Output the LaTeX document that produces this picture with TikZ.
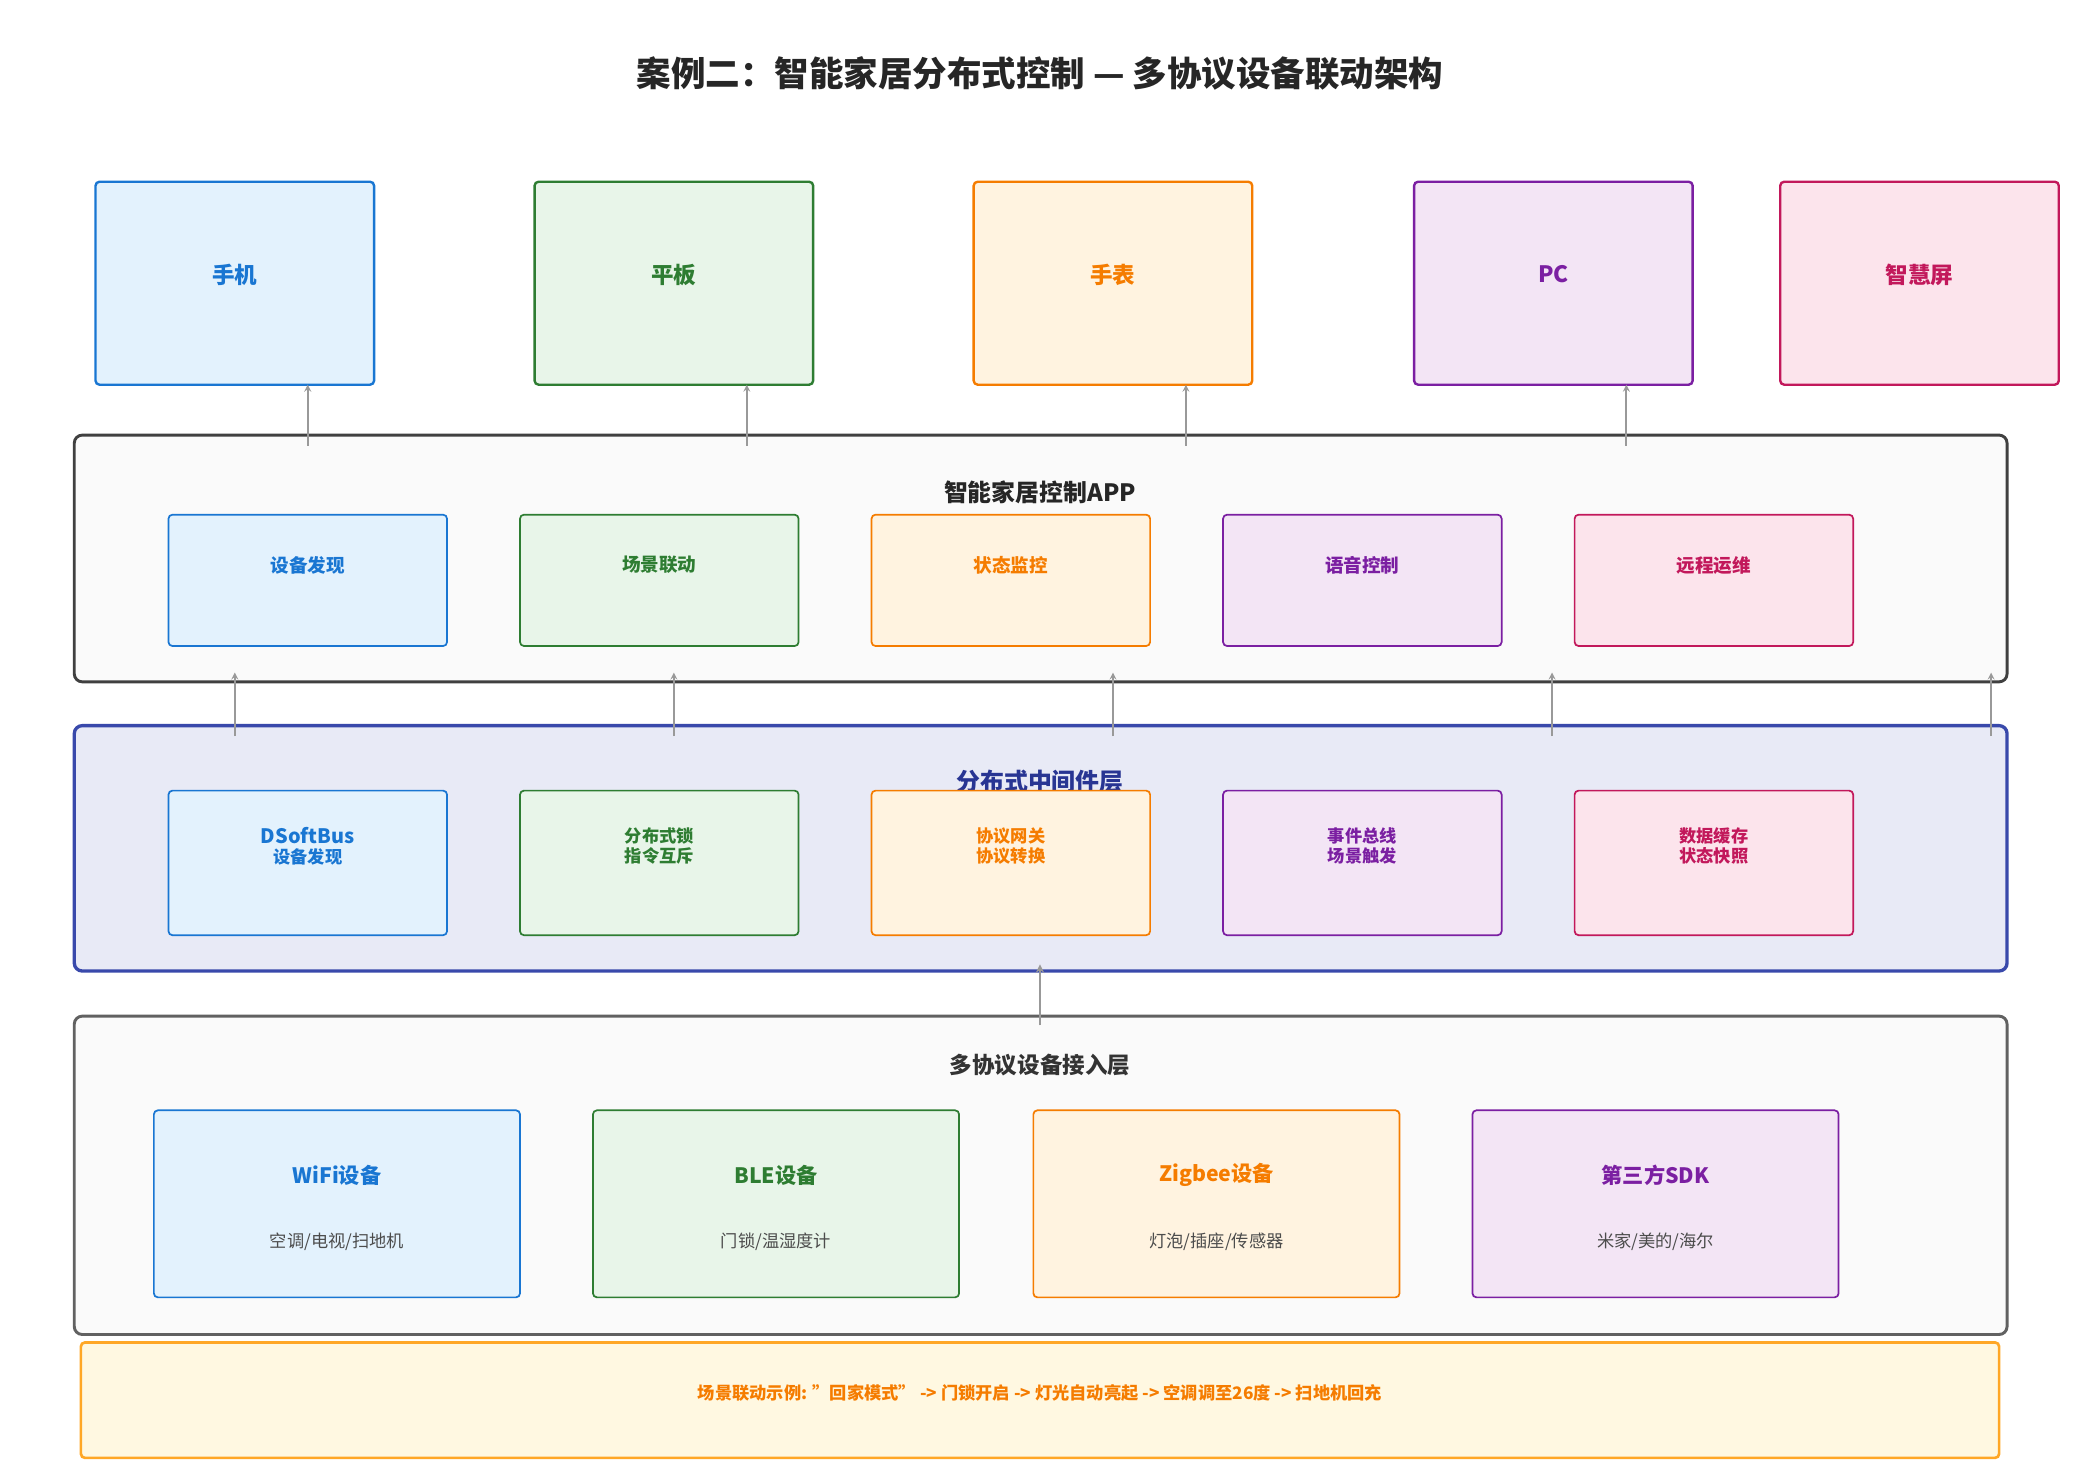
\documentclass[tikz,border=0pt]{standalone}
\usepackage{fontspec}
\setmainfont{Noto Sans CJK SC}
\begin{document}
\begin{tikzpicture}[x=1pt,y=-1pt,
 ar/.style={draw=gray!80,line width=1.3pt,->,>=stealth},
 lab/.style={font=\bfseries\fontsize{14}{16}\selectfont,text=#1,align=center}]
\definecolor{cb}{HTML}{1976D2}\definecolor{cg}{HTML}{2E7D32}\definecolor{co}{HTML}{F57C00}
\definecolor{cp}{HTML}{7B1FA2}\definecolor{ck}{HTML}{C2185B}
\definecolor{fb}{HTML}{E3F2FD}\definecolor{fg}{HTML}{E8F5E9}\definecolor{fo}{HTML}{FFF3E0}
\definecolor{fp}{HTML}{F3E5F5}\definecolor{fk}{HTML}{FCE4EC}
\definecolor{mwb}{HTML}{3949AB}\definecolor{mwf}{HTML}{E8EAF6}\definecolor{mwt}{HTML}{283593}
\definecolor{nf}{HTML}{FFF8E1}\definecolor{nb}{HTML}{FFA726}
\tikzset{cbox/.style 2 args={draw=#1,fill=#2,line width=1.3pt,rounded corners=3pt}}
\useasboundingbox (0,0) rectangle (1568,1115.6);
\node[font=\bfseries\fontsize{26}{30}\selectfont,text=black!85] (title) at (784,55) {案例二：智能家居分布式控制 — 多协议设备联动架构};
% top devices
\foreach \x/\c/\f/\t/\n in {72/cb/fb/手机/d1,403/cg/fg/平板/d2,734/co/fo/手表/d3,1066/cp/fp/PC/d4,1342/ck/fk/智慧屏/d5}{
 \draw[cbox={\c}{\f},line width=1.8pt] (\x,137) rectangle ++(210,153);
 \node[lab=\c,font=\bfseries\fontsize{17}{19}\selectfont] (\n) at (\x+105,207) {\t};}
% APP layer
\draw[draw=black!75,fill=black!2,line width=2.2pt,rounded corners=6pt] (56,328) rectangle (1513,514);
\node[font=\bfseries\fontsize{18}{20}\selectfont,text=black!85] (app) at (784,371) {智能家居控制APP};
\foreach \x/\c/\f/\t/\n in {127/cb/fb/设备发现/a1,392/cg/fg/场景联动/a2,657/co/fo/状态监控/a3,922/cp/fp/语音控制/a4,1187/ck/fk/远程运维/a5}{
 \draw[cbox={\c}{\f}] (\x,388) rectangle ++(210,99);
 \node[lab=\c] (\n) at (\x+105,426) {\t};}
\foreach \x/\n in {232/1,563/2,894/3,1226/4}{
 \coordinate (s\n) at (\x,336); \coordinate (e\n) at (\x,290);
 \draw[ar] (s\n) -- (e\n);}
% middleware
\draw[draw=mwb,fill=mwf,line width=2.5pt,rounded corners=6pt] (56,547) rectangle (1513,732);
\node[font=\bfseries\fontsize{18}{20}\selectfont,text=mwt] (mw) at (784,589) {分布式中间件层};
\foreach \x/\c/\f/\t/\n in {127/cb/fb/{\fontsize{15}{15}\selectfont DSoftBus\\设备发现}/m1,392/cg/fg/{分布式锁\\指令互斥}/m2,657/co/fo/{协议网关\\协议转换}/m3,922/cp/fp/{事件总线\\场景触发}/m4,1187/ck/fk/{数据缓存\\状态快照}/m5}{
 \draw[cbox={\c}{\f}] (\x,596) rectangle ++(210,109);
 \node[lab=\c,font=\bfseries\fontsize{13}{15}\selectfont] (\n) at (\x+105,638) {\t};}
\foreach \x/\n in {177/1,508/2,839/3,1170/4,1501/5}{
 \coordinate (p\n) at (\x,555); \coordinate (q\n) at (\x,507);
 \draw[ar] (p\n) -- (q\n);}
% access layer
\draw[draw=black!62,fill=black!2,line width=2.2pt,rounded corners=6pt] (56,766) rectangle (1513,1006);
\node[font=\bfseries\fontsize{17}{19}\selectfont,text=black!80] (acc) at (784,803) {多协议设备接入层};
\coordinate (u1) at (784,773); \coordinate (u2) at (784,727);
\draw[ar,line width=1.8pt] (u1) -- (u2);
\foreach \x/\c/\f/\t/\s/\n in {116/cb/fb/WiFi设备/{空调/电视/扫地机}/b1,447/cg/fg/BLE设备/{门锁/温湿度计}/b2,779/co/fo/Zigbee设备/{灯泡/插座/传感器}/b3,1110/cp/fp/第三方SDK/{米家/美的/海尔}/b4}{
 \draw[cbox={\c}{\f}] (\x,837) rectangle ++(276,141);
 \node[lab=\c,font=\bfseries\fontsize{16}{18}\selectfont] (\n) at (\x+138,886) {\t};
 \node[font=\fontsize{13}{15}\selectfont,text=black!70] (\n s) at (\x+138,936) {\s};}
% note
\draw[draw=nb,fill=nf,line width=2pt,rounded corners=3pt] (61,1012) rectangle (1507,1099);
\node[font=\bfseries\fontsize{13}{15}\selectfont,text=co] (note) at (784,1050) {场景联动示例: {\char34}回家模式{\char34} -> 门锁开启 -> 灯光自动亮起 -> 空调调至26度 -> 扫地机回充};
\end{tikzpicture}
\end{document}
